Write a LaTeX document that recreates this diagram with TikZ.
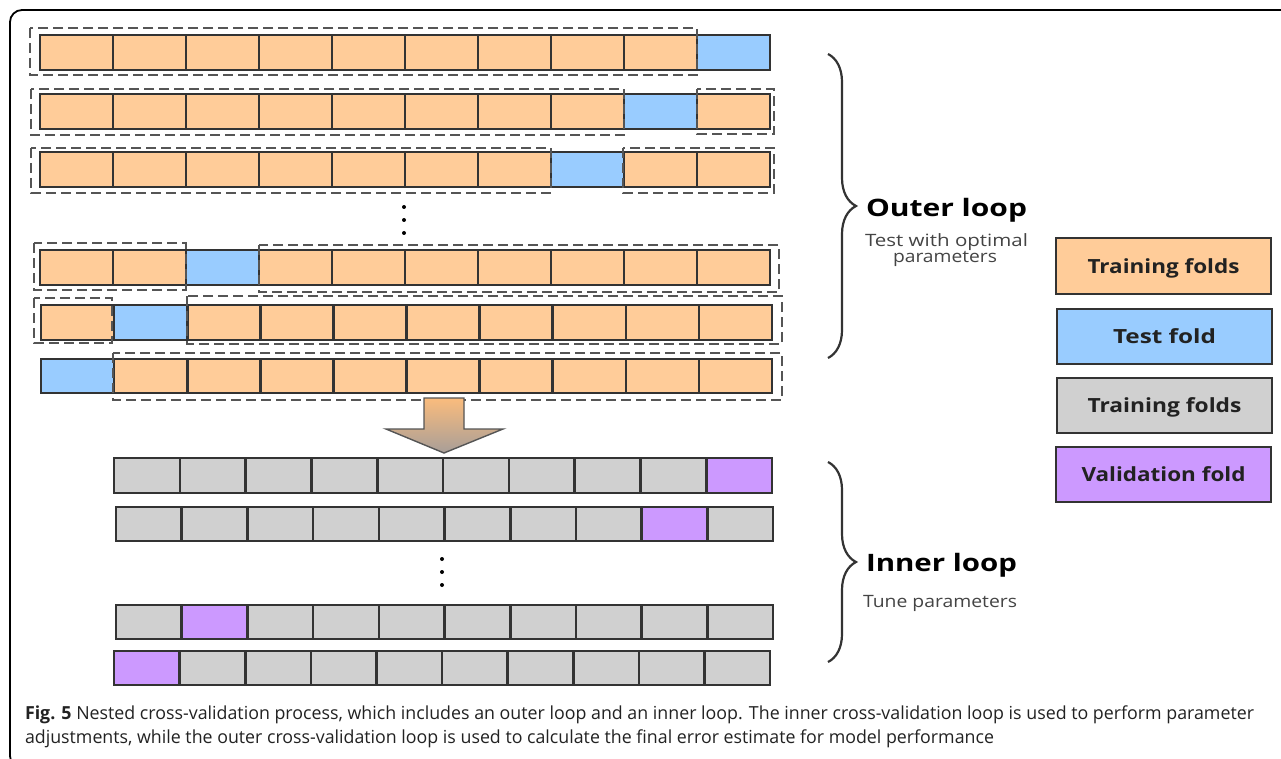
\documentclass[tikz,border=0pt]{standalone}
\usepackage{fontspec}
\usepackage{graphicx}
\setmainfont{Open Sans}
\usetikzlibrary{decorations.pathreplacing}
\definecolor{orangeF}{RGB}{255,204,153}
\definecolor{blueF}{RGB}{153,204,255}
\definecolor{grayF}{RGB}{208,208,208}
\definecolor{purpleF}{RGB}{204,153,255}
\definecolor{cellline}{RGB}{51,51,51}
\definecolor{dashc}{RGB}{85,85,85}
\definecolor{txtdark}{RGB}{34,34,34}
\definecolor{txtgray}{RGB}{68,68,68}
\definecolor{arrowtop}{RGB}{250,188,125}
\definecolor{arrowbot}{RGB}{168,158,152}
\newcommand\fitto[2]{\resizebox{#1}{\height}{#2}}
\newcommand\foldrow[8]{%
  \foreach \i in {1,...,10}{%
    \ifnum\i=#6\relax\def\fc{#8}\else\def\fc{#7}\fi
    \node[cell, fill=\fc, minimum width=#4, minimum height=#5] (#1c\i) at ({#2+(\i-1)*#4},#3) {};
  }}
\tikzset{
  cell/.style={draw=cellline, line width=2.6pt, inner sep=0pt, outer sep=0pt, anchor=north west},
  dbox/.style={draw=dashc, line width=2.4pt, dash pattern=on 10pt off 5pt},
  legendbox/.style={draw=cellline, line width=2.4pt, inner sep=0pt, minimum width=215pt, minimum height=55pt,
    text height=14pt, text depth=0pt, text=txtdark, font=\fontsize{19.5}{22}\selectfont\bfseries},
  bracepath/.style={decorate, decoration={brace, amplitude=28pt}, line width=2.2pt, draw=cellline},
  lbl/.style={inner sep=0pt, outer sep=0pt, anchor=base west},
  dot/.style={circle, fill=black, inner sep=0pt, minimum size=4pt},
}
\begin{document}
\begin{tikzpicture}[x=1pt,y=-1pt]
\useasboundingbox (0,0) rectangle (1281,759);
\fill[white] (0,0) rectangle (1281,759);
\clip (0,0) rectangle (1281,759);
% frame
\draw[line width=1.8pt, rounded corners=12pt] (1300,10) -- (10,10) -- (10,768) -- (80,768);

% outer loop rows
\foldrow{oa}{40}{35}{73}{35}{10}{orangeF}{blueF}
\foldrow{ob}{40}{94}{73}{35}{9}{orangeF}{blueF}
\foldrow{oc}{40}{152}{73}{35}{8}{orangeF}{blueF}
\foldrow{od}{40}{250}{73}{35}{3}{orangeF}{blueF}
\foldrow{oe}{41}{305}{73.1}{35}{2}{orangeF}{blueF}
\foldrow{of}{41}{359}{73.1}{34}{1}{orangeF}{blueF}

% dashed groupings
\draw[dbox] (30,28) rectangle (697,75);
\draw[dbox] (31,89) rectangle (624,135);
\draw[dbox] (697,89) rectangle (774,134);
\draw[dbox] (31,148) rectangle (551,193);
\draw[dbox] (623,148) rectangle (774,193);
\draw[dbox] (34,243) rectangle (186,290);
\draw[dbox] (259,245) rectangle (779,292);
\draw[dbox] (34,298) rectangle (112,343);
\draw[dbox] (187,296) rectangle (782,344);
\draw[dbox] (113,353) rectangle (782,400);

% dots outer
\node[dot] (od1) at (404,207) {};
\node[dot] (od2) at (404,220) {};
\node[dot] (od3) at (404,233) {};

% big arrow
\draw[draw=dashc, line width=1.4pt, top color=arrowtop, bottom color=arrowbot]
  (424,398) -- (464,398) -- (464,429) -- (503,429) -- (444,453) -- (386,429) -- (424,429) -- cycle;

% inner loop rows
\foldrow{ia}{114}{458}{65.8}{35}{10}{grayF}{purpleF}
\foldrow{ib}{116}{507}{65.7}{34}{9}{grayF}{purpleF}
\foldrow{ic}{116}{605}{65.7}{34}{2}{grayF}{purpleF}
\foldrow{id}{114}{651}{65.6}{34}{1}{grayF}{purpleF}

% dots inner
\node[dot] (id1) at (442,559) {};
\node[dot] (id2) at (442,572) {};
\node[dot] (id3) at (442,585) {};

% braces
\coordinate (obt) at (828,54);
\coordinate (obb) at (828,358);
\coordinate (ibt) at (828,462);
\coordinate (ibb) at (828,662);
\draw[bracepath] (obt) -- (obb);
\draw[bracepath] (ibt) -- (ibb);

% brace labels
\node[lbl, text=black] (outerlbl) at (866,217) {\fitto{161pt}{\fontsize{24}{28}\selectfont\bfseries Outer loop}};
\node[lbl, text=txtgray] (outersub1) at (865,247) {\fitto{163pt}{\fontsize{17}{20}\selectfont Test with optimal}};
\node[lbl, text=txtgray] (outersub2) at (893,262) {\fitto{104pt}{\fontsize{17}{20}\selectfont parameters}};
\node[lbl, text=black] (innerlbl) at (866,571) {\fitto{151pt}{\fontsize{24}{28}\selectfont\bfseries Inner loop}};
\node[lbl, text=txtgray] (innersub) at (863,607) {\fitto{154pt}{\fontsize{17}{20}\selectfont Tune parameters}};

% legend
\node[legendbox, fill=orangeF, minimum height=56pt] (leg1) at (1163.5,266) {\fitto{152pt}{Training folds}};
\node[legendbox, fill=blueF] (leg2) at (1164.5,336.5) {\fitto{103pt}{Test fold}};
\node[legendbox, fill=grayF] (leg3) at (1164.5,405.5) {\fitto{154pt}{Training folds}};
\node[legendbox, fill=purpleF] (leg4) at (1163.5,474.5) {\fitto{164pt}{Validation fold}};

% caption
\node[lbl, text=txtdark] (cap1) at (25,719) {\fitto{1229pt}{\fontsize{18}{22}\selectfont\textbf{Fig. 5} Nested cross-validation process, which includes an outer loop and an inner loop. The inner cross-validation loop is used to perform parameter}};
\node[lbl, text=txtdark] (cap2) at (25,743) {\fitto{969pt}{\fontsize{18}{22}\selectfont adjustments, while the outer cross-validation loop is used to calculate the final error estimate for model performance}};
\end{tikzpicture}
\end{document}
